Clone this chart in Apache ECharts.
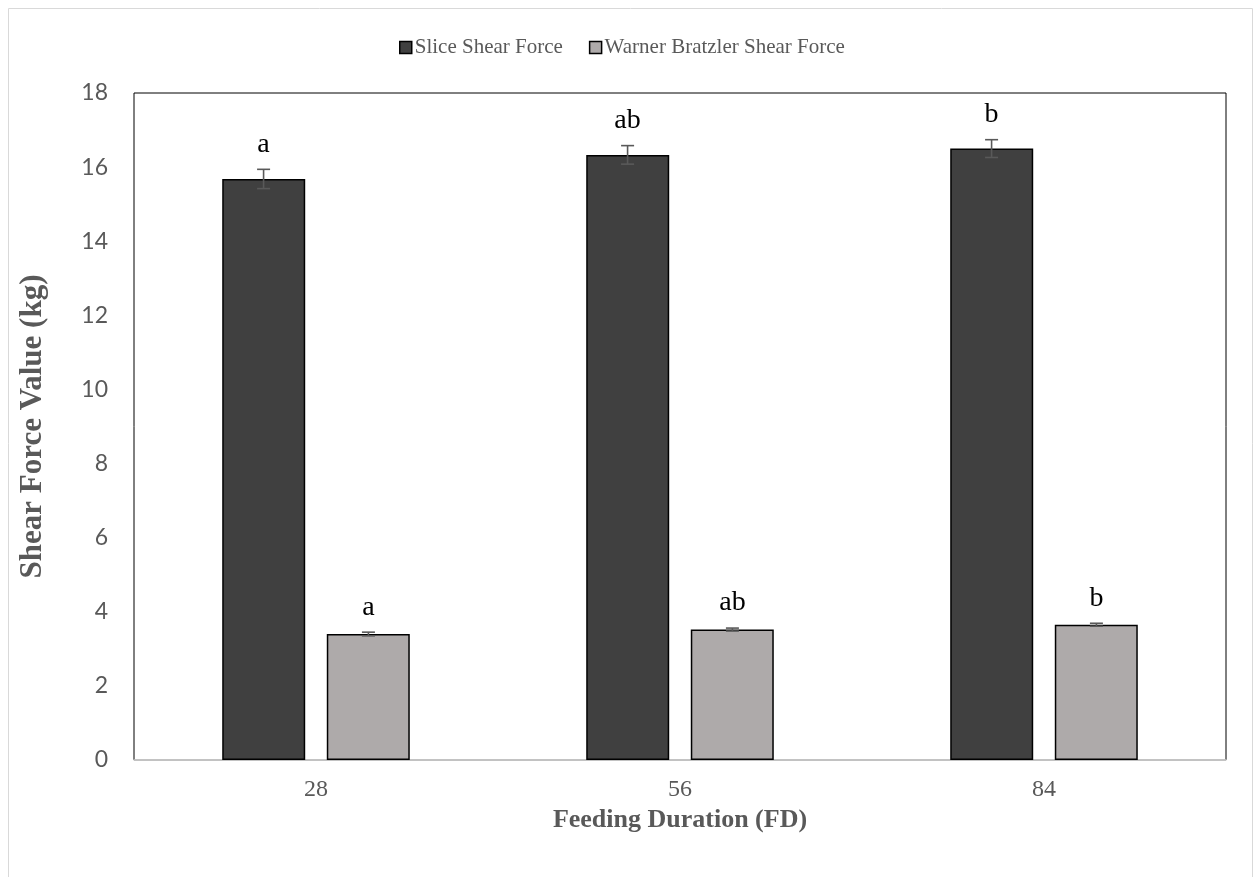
<!DOCTYPE html>
<html>
<head>
<meta charset="utf-8">
<script src="https://cdn.jsdelivr.net/npm/echarts@6/dist/echarts.min.js"></script>
<style>
  html, body { margin: 0; padding: 0; background: #fff; }
  #chart { width: 1255px; height: 877px; }
</style>
</head>
<body>
<div id="chart"></div>
<script>
// Feeding duration categories (days)
const categories = ['28', '56', '84'];
// Mean shear force values (kg) and their standard errors
const sliceShear = [15.68, 16.33, 16.50];
const sliceErr = [0.26, 0.25, 0.24];
const wbShear = [3.40, 3.52, 3.65];
const wbErr = [0.05, 0.04, 0.04];
// Significance letters above each bar
const sliceLetters = ['a', 'ab', 'b'];
const wbLetters = ['a', 'ab', 'b'];
// Y-axis ticks
const yMin = 0, yMax = 18, yStep = 2;

const serif = '"Liberation Serif", "Times New Roman", serif';
const sans = 'Lato, "Open Sans", sans-serif';

const chart = echarts.init(document.getElementById('chart'));

// Error bar with letter above it; offsets the whisker to the matching bar in each group
function errorRenderer(values, errs, letters, seriesIdx) {
  return function (params, api) {
    const i = params.dataIndex;
    const v = values[i], e = errs[i];
    const bw = api.size([1, 0])[0];
    const barWidth = bw * 0.228;
    const gap = bw * 0.06;
    const shift = (seriesIdx === 0 ? -1 : 1) * (barWidth / 2 + gap / 2);
    const top = api.coord([i, v + e]);
    const bot = api.coord([i, v - e]);
    const x = top[0] + shift;
    const cap = 6.5;
    const style = { stroke: '#595959', lineWidth: 1.6 };
    return {
      type: 'group',
      children: [
        { type: 'line', shape: { x1: x, y1: top[1], x2: x, y2: bot[1] }, style },
        { type: 'line', shape: { x1: x - cap, y1: top[1], x2: x + cap, y2: top[1] }, style },
        { type: 'line', shape: { x1: x - cap, y1: bot[1], x2: x + cap, y2: bot[1] }, style },
        {
          type: 'text',
          style: {
            text: letters[i], x: x, y: top[1] - 11,
            align: 'center', verticalAlign: 'bottom',
            font: '28px ' + serif, fill: '#000'
          }
        }
      ]
    };
  };
}

chart.setOption({
  animation: false,
  graphic: [{
    type: 'rect', shape: { x: 8.5, y: 8.5, width: 1244, height: 880 },
    style: { fill: 'none', stroke: '#d9d9d9', lineWidth: 1 }, silent: true
  }],
  legend: {
    top: 32, left: 394, itemWidth: 12, itemHeight: 12, itemGap: 26,
    icon: 'rect',
    textStyle: { fontFamily: serif, fontSize: 21, color: '#595959', padding: [0, 0, 0, -2] },
    data: [
      { name: 'Slice Shear Force', itemStyle: { borderColor: '#000', borderWidth: 1.5 } },
      { name: 'Warner Bratzler Shear Force', itemStyle: { borderColor: '#000', borderWidth: 1.5 } }
    ]
  },
  grid: {
    left: 134, right: 29, top: 93, bottom: 117,
    show: true, borderColor: '#000', borderWidth: 1, backgroundColor: '#fff'
  },
  xAxis: {
    type: 'category', data: categories,
    axisLine: { lineStyle: { color: '#d9d9d9', width: 1.5 } },
    axisTick: { show: false },
    axisLabel: { fontFamily: serif, fontSize: 24, color: '#595959', margin: 18 },
    name: 'Feeding Duration (FD)', nameLocation: 'middle', nameGap: 46,
    nameTextStyle: { fontFamily: serif, fontSize: 26, fontWeight: 'bold', color: '#595959' }
  },
  yAxis: {
    type: 'value', min: yMin, max: yMax, interval: yStep,
    axisLine: { show: false }, axisTick: { show: false },
    splitLine: { show: false },
    axisLabel: { fontFamily: sans, fontSize: 23, color: '#595959', margin: 26 },
    name: 'Shear Force Value (kg)', nameLocation: 'middle', nameGap: 86,
    nameTextStyle: { fontFamily: serif, fontSize: 31, fontWeight: 'bold', color: '#595959' }
  },
  series: [
    {
      name: 'Slice Shear Force', type: 'bar', data: sliceShear,
      barWidth: '22.8%', barGap: '26%',
      itemStyle: { color: '#404040', borderColor: '#000', borderWidth: 1.5 }
    },
    {
      name: 'Warner Bratzler Shear Force', type: 'bar', data: wbShear,
      barWidth: '22.8%',
      itemStyle: { color: '#aeaaaa', borderColor: '#000', borderWidth: 1.5 }
    },
    {
      type: 'custom', data: sliceShear.map((v, i) => [i, v]),
      renderItem: errorRenderer(sliceShear, sliceErr, sliceLetters, 0), z: 10
    },
    {
      type: 'custom', data: wbShear.map((v, i) => [i, v]),
      renderItem: errorRenderer(wbShear, wbErr, wbLetters, 1), z: 10
    }
  ]
});
</script>
</body>
</html>
